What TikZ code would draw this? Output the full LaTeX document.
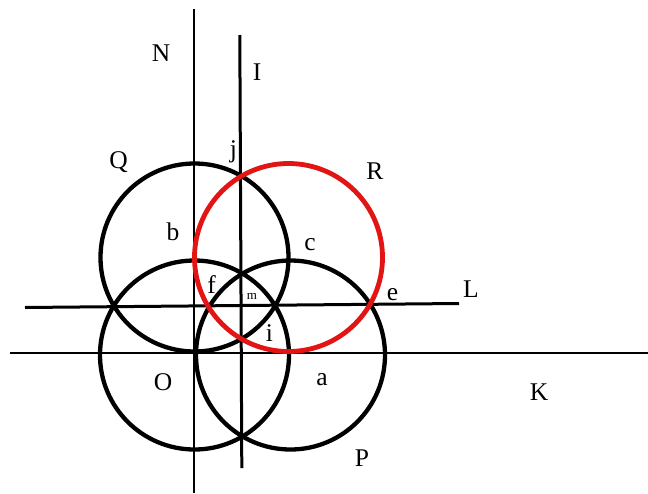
\documentclass[tikz,border=0pt]{standalone}
\usepackage{fontspec}
\setmainfont{Liberation Serif}
\definecolor{myred}{RGB}{226,20,20}
\begin{document}
\begin{tikzpicture}[x=1pt,y=-1pt,
  circ/.style={line width=4.3pt},
  redcirc/.style={line width=4.8pt,draw=myred},
  axis/.style={line width=2.2pt},
  lbl/.style={font=\fontsize{25.5}{25.5}\selectfont,inner sep=0pt},
  small/.style={font=\fontsize{13}{13}\selectfont,inner sep=0pt}]
\useasboundingbox (0,0) rectangle (648,493);
% coordinates
\coordinate (Ntop) at (194,9);
\coordinate (Nbot) at (194,493);
\coordinate (Itop) at (239.8,35);
\coordinate (Ibot) at (241.8,468);
\coordinate (Lleft) at (25,307.5);
\coordinate (Lright) at (459,303.5);
\coordinate (Kleft) at (10,353);
\coordinate (Kright) at (648,353);
\coordinate (cQ) at (194.5,257.5);
\coordinate (cR) at (288.5,257.5);
\coordinate (cO) at (194.5,355);
\coordinate (cP) at (290.5,355);
% lines
\draw[axis,line width=2pt] (Ntop) -- (Nbot);
\draw[axis,line width=3pt] (Itop) -- (Ibot);
\draw[axis,line width=3pt] (Lleft) -- (Lright);
\draw[axis,line width=2.5pt] (Kleft) -- (Kright);
% circles
\draw[circ] (cQ) circle[radius=94pt];
\draw[circ] (cO) circle[radius=94.5pt];
\draw[circ] (cP) circle[radius=94.5pt];
\draw[redcirc] (cR) circle[radius=94pt];
% labels
\node[lbl] (tN) at (161,53) {N};
\node[lbl] (tI) at (257,72) {I};
\node[lbl] (tQ) at (118.5,162) {Q};
\node[lbl] (tj) at (233.5,152) {j};
\node[lbl] (tR) at (375,171) {R};
\node[lbl] (tb) at (173,232) {b};
\node[lbl] (tc) at (310,245) {c};
\node[lbl] (tf) at (211.5,285) {f};
\node[small] (tm) at (252,296) {m};
\node[lbl] (te) at (392.5,295) {e};
\node[lbl] (tL) at (471,289) {L};
\node[lbl] (ti) at (269.5,333) {i};
\node[lbl] (tO) at (163,382) {O};
\node[lbl] (ta) at (322,380) {a};
\node[lbl] (tK) at (539,392) {K};
\node[lbl] (tP) at (362,458) {P};
\end{tikzpicture}
\end{document}
